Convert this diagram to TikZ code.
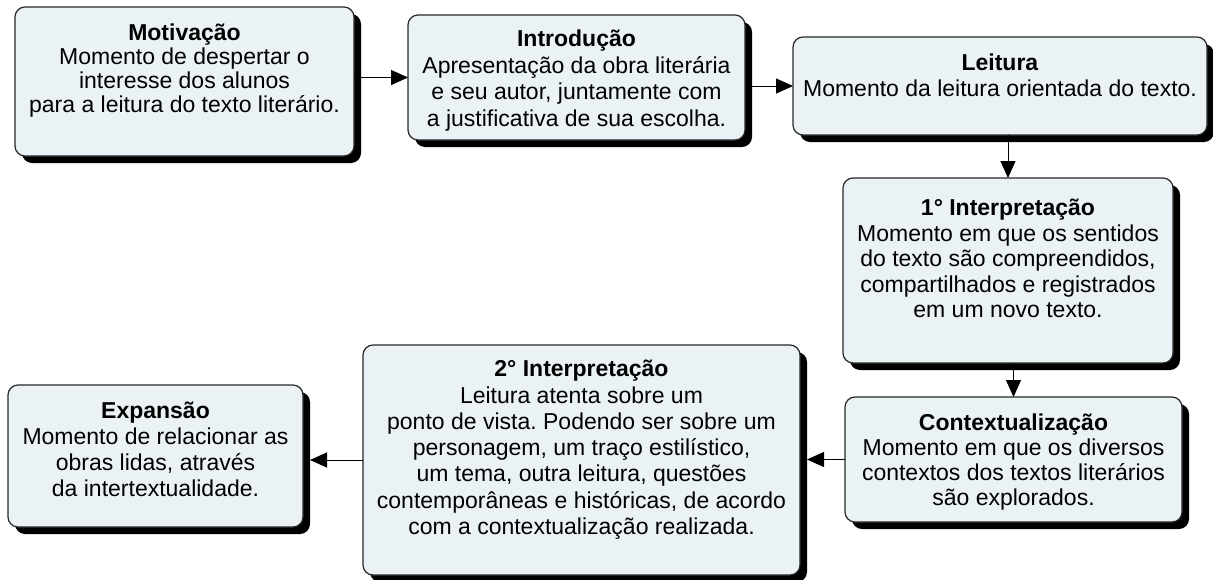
\documentclass[tikz,border=0pt]{standalone}
\usepackage{fontspec}
\setmainfont{Liberation Sans}
\usetikzlibrary{shadows,arrows.meta}
\definecolor{boxfill}{RGB}{234,242,245}
\definecolor{boxline}{RGB}{40,40,40}
\tikzset{
  box/.style={draw=boxline, line width=1.2pt, fill=boxfill, rounded corners=10pt,
    drop shadow={shadow xshift=7pt, shadow yshift=-7pt, fill=black, opacity=1},
    inner sep=0pt, outer sep=0pt},
  txt/.style={align=center, inner sep=0pt, anchor=north,
    font=\fontsize{23}{25.5}\selectfont},
  arr/.style={draw=black, line width=1pt, -{Triangle[length=17pt,width=15pt]}}
}
\frenchspacing
\begin{document}
\begin{tikzpicture}[x=1pt,y=-1pt]
\useasboundingbox (0,0) rectangle (1213,579);
% boxes
\node[box, minimum width=339pt, minimum height=149pt] (mot) at (184.5,81.5) {};
\node[box, minimum width=337pt, minimum height=125pt] (intro) at (576.5,77.5) {};
\node[box, minimum width=414pt, minimum height=98pt] (leit) at (1000,86) {};
\node[box, minimum width=330pt, minimum height=185pt] (int1) at (1008,270.5) {};
\node[box, minimum width=337pt, minimum height=125pt] (ctx) at (1013.5,459.5) {};
\node[box, minimum width=437pt, minimum height=230pt] (int2) at (581.5,460) {};
\node[box, minimum width=295pt, minimum height=142pt] (exp) at (155.5,456) {};
% texts
\node[txt, font=\fontsize{23}{24}\selectfont] (tmot) at (184.5,24) {\textbf{Motivação}\\Momento de despertar o\\interesse dos alunos\\para a leitura do texto literário.};
\node[txt, font=\fontsize{23}{26.5}\selectfont] (tintro) at (576.5,30) {\textbf{Introdução}\\Apresentação da obra literária\\e seu autor, juntamente com\\a justificativa de sua escolha.};
\node[txt] (tleit) at (1000,54) {\textbf{Leitura}\\Momento da leitura orientada do texto.};
\node[txt] (tint1) at (1008,199) {\textbf{1° Interpretação}\\Momento em que os sentidos\\do texto são compreendidos,\\compartilhados e registrados\\em um novo texto.};
\node[txt, font=\fontsize{23}{25}\selectfont] (tctx) at (1013.5,414) {\textbf{Contextualização}\\Momento em que os diversos\\contextos dos textos literários\\são explorados.};
\node[txt, font=\fontsize{23}{26.3}\selectfont] (tint2) at (581.5,360) {\textbf{2° Interpretação}\\Leitura atenta sobre um\\ponto de vista. Podendo ser sobre um\\personagem, um traço estilístico,\\um tema, outra leitura, questões\\contemporâneas e históricas, de acordo\\com a contextualização realizada.};
\node[txt, font=\fontsize{23}{26}\selectfont] (texp) at (155.5,402) {\textbf{Expansão}\\Momento de relacionar as\\obras lidas, através\\da intertextualidade.};
% connectors
\draw[arr] (mot.east |- intro.west) -- (intro.west);
\draw[arr] (intro.east |- leit.west) -- (leit.west);
\draw[arr] (leit.south -| int1.north) -- (int1.north);
\draw[arr] (int1.south -| ctx.north) -- (ctx.north);
\draw[arr, shorten >=7pt] (ctx.west) -- (int2.east |- ctx.west);
\draw[arr, shorten >=7pt] (int2.west) -- (exp.east |- int2.west);
\end{tikzpicture}
\end{document}
